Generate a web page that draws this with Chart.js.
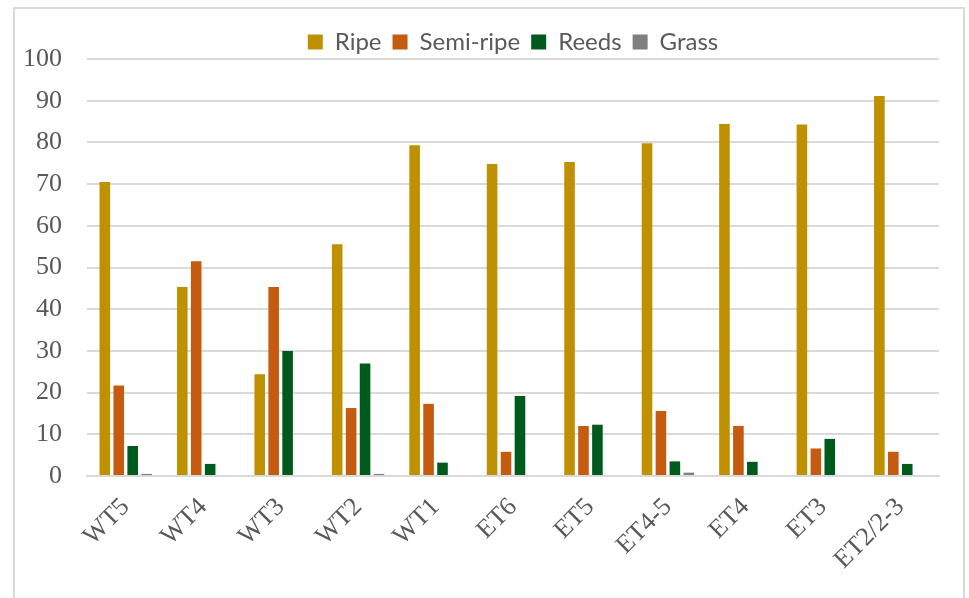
<!DOCTYPE html>
<html>
<head>
<meta charset="utf-8">
<script src="https://cdn.jsdelivr.net/npm/chart.js@4/dist/chart.umd.min.js"></script>
<style>
  html, body { margin: 0; padding: 0; background: #fff; }
  #wrap { position: relative; width: 969px; height: 598px; overflow: hidden; }
  #frame { position: absolute; left: 13px; top: 7px; width: 952px; height: 620px;
           border: 2px solid #d9d9d9; box-sizing: border-box; }
  canvas { position: absolute; left: 0; top: 0; }
</style>
</head>
<body>
<div id="wrap">
  <div id="frame"></div>
  <canvas id="chart" width="969" height="598"></canvas>
</div>
<script>
  // ─── Data ──────────────────────────────────────────────
  var sites = ['WT5', 'WT4', 'WT3', 'WT2', 'WT1', 'ET6', 'ET5', 'ET4-5', 'ET4', 'ET3', 'ET2/2-3'];
  var ripe     = [70.5, 45.3, 24.4, 55.6, 79.3, 74.8, 75.3, 79.8, 84.4, 84.3, 91.1];
  var semiRipe = [21.7, 51.5, 45.3, 16.3, 17.3, 5.8, 12.0, 15.6, 12.0, 6.6, 5.8];
  var reeds    = [7.2, 2.9, 30.0, 27.0, 3.2, 19.2, 12.3, 3.5, 3.4, 8.9, 2.9];
  var grass    = [0.5, 0, 0, 0.5, 0, 0, 0, 0.8, 0, 0, 0];
  var yTicks   = [0, 10, 20, 30, 40, 50, 60, 70, 80, 90, 100];

  // ─── Chart ─────────────────────────────────────────────
  function ds(label, data, color) {
    return {
      label: label,
      data: data,
      backgroundColor: color,
      borderWidth: 0,
      categoryPercentage: 0.72,
      barPercentage: 0.76
    };
  }

  // legend keeps its item spacing but takes less height
  var legendHeight = {
    id: 'legendHeight',
    afterInit: function (chart) {
      var lg = chart.legend;
      if (!lg) return;
      var fit = lg.fit;
      lg.fit = function () {
        fit.call(this);
        this.height = 40;
      };
    }
  };

  new Chart(document.getElementById('chart'), {
    type: 'bar',
    data: {
      labels: sites,
      datasets: [
        ds('Ripe', ripe, '#bf9000'),
        ds('Semi-ripe', semiRipe, '#c55a11'),
        ds('Reeds', reeds, '#005a1e'),
        ds('Grass', grass, '#7f7f7f')
      ]
    },
    plugins: [legendHeight],
    options: {
      responsive: false,
      animation: false,
      devicePixelRatio: 1,
      layout: { padding: { left: 0, right: 30, top: 19, bottom: 0 } },
      plugins: {
        tooltip: { enabled: false },
        legend: {
          position: 'top',
          fullSize: false,
          labels: {
            font: { family: 'Lato', size: 24, lineHeight: 1 },
            color: '#595959',
            boxWidth: 15,
            boxHeight: 15,
            padding: 11
          }
        }
      },
      scales: {
        x: {
          grid: { display: false },
          border: { color: '#d9d9d9', width: 2 },
          ticks: {
            font: { family: 'Liberation Serif', size: 26 },
            color: '#595959',
            maxRotation: 45,
            minRotation: 45,
            padding: 8
          },
          afterFit: function (s) { s.height = 122; }
        },
        y: {
          min: 0,
          max: 100,
          afterBuildTicks: function (s) {
            s.ticks = yTicks.map(function (v) { return { value: v }; });
          },
          grid: { color: '#d9d9d9', lineWidth: 2, drawTicks: false },
          border: { display: false },
          ticks: {
            font: { family: 'Liberation Serif', size: 26 },
            color: '#595959',
            padding: 25
          },
          afterFit: function (s) { s.width = 87; }
        }
      }
    }
  });
</script>
</body>
</html>
